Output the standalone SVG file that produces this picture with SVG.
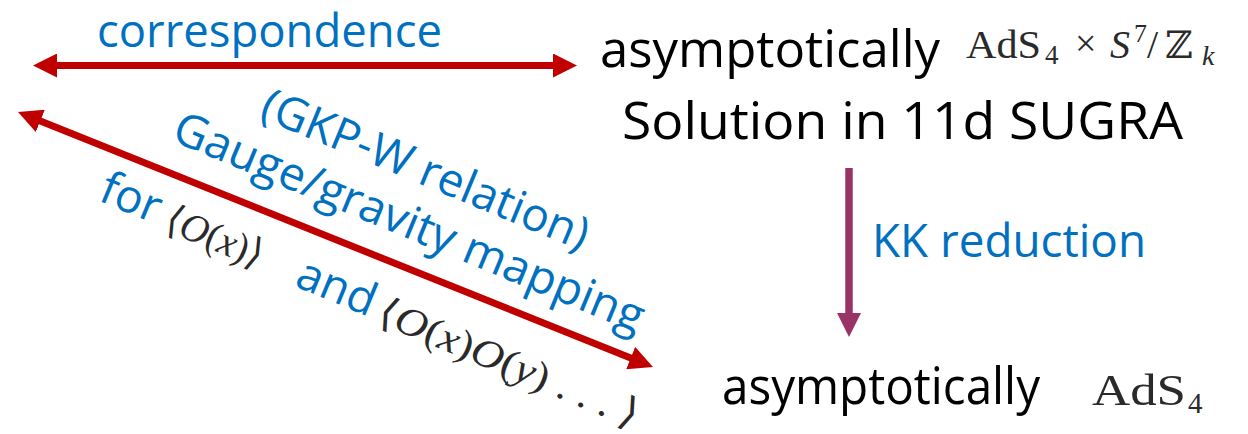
<svg xmlns="http://www.w3.org/2000/svg" width="1248" height="434" viewBox="0 0 1248 434">
<style>
.lbl{font-family:"Open Sans","Noto Sans","DejaVu Sans",sans-serif;fill:#0070C0;font-size:46px}
.blk{font-family:"Open Sans","Noto Sans","DejaVu Sans",sans-serif;fill:#000;font-size:52px}
.math{font-family:"Liberation Serif","DejaVu Serif",serif;fill:#2a2a2a}
.it{font-style:italic}
.red{stroke:#C00000;stroke-width:7;fill:none}
.pur{stroke:#993366;stroke-width:7.5;fill:none}
</style>
<defs>
<marker id="hr" viewBox="0 0 24 24" refX="4" refY="12" markerWidth="24" markerHeight="24" markerUnits="userSpaceOnUse" orient="auto-start-reverse"><path d="M0,0 L24,12 L0,24 Z" fill="#C00000"/></marker>
<marker id="hp" viewBox="0 0 24 24" refX="4" refY="12" markerWidth="24" markerHeight="24" markerUnits="userSpaceOnUse" orient="auto-start-reverse"><path d="M0,0 L24,12 L0,24 Z" fill="#993366"/></marker>
</defs>
<rect width="1248" height="434" fill="#fff"/>
<g id="connectors">
<path class="red" d="M53,65.5 L557,65.5" marker-start="url(#hr)" marker-end="url(#hr)"/>
<path class="red" d="M36.6,119.5 L634.4,359.5" marker-start="url(#hr)" marker-end="url(#hr)"/>
<path class="pur" d="M849,168 L849,317" marker-end="url(#hp)"/>
</g>
<g id="top-node">
<text class="blk" x="600" y="67" textLength="340" lengthAdjust="spacingAndGlyphs">asymptotically</text>
<text class="math" x="966" y="58" font-size="40" textLength="75" lengthAdjust="spacingAndGlyphs">AdS</text>
<text class="math" x="1045" y="64" font-size="27">4</text>
<text class="math" x="1075" y="56" font-size="38">×</text>
<text class="math it" x="1110" y="58" font-size="40">S</text>
<text class="math" x="1134" y="42" font-size="26">7</text>
<text class="math" x="1147" y="58" font-size="40">/</text>
<text class="math" x="1165" y="58" font-size="38">ℤ</text>
<text class="math it" x="1202" y="65" font-size="28">k</text>
<text class="blk" x="622" y="139" textLength="561" lengthAdjust="spacingAndGlyphs">Solution in 11d SUGRA</text>
</g>
<g id="bottom-node">
<text class="blk" x="722" y="404" font-size="49" textLength="318" lengthAdjust="spacingAndGlyphs">asymptotically</text>
<text class="math" x="1092" y="405" font-size="44" textLength="94" lengthAdjust="spacingAndGlyphs">AdS</text>
<text class="math" x="1188" y="413" font-size="29">4</text>
</g>
<g id="labels">
<text class="lbl" x="97" y="47" textLength="345" lengthAdjust="spacingAndGlyphs">correspondence</text>
<text class="lbl" x="872" y="257" textLength="274" lengthAdjust="spacingAndGlyphs">KK reduction</text>
<text class="lbl" transform="translate(258,117) rotate(22.5)" textLength="350" lengthAdjust="spacingAndGlyphs">(GKP-W relation)</text>
<text class="lbl" transform="translate(170,140) rotate(22.5)" textLength="505" lengthAdjust="spacingAndGlyphs">Gauge/gravity mapping</text>
<g transform="translate(97,200) rotate(22.5)">
<text class="lbl" x="0" y="0">for</text>
<text class="math" x="72" y="2" font-size="40" textLength="102" lengthAdjust="spacingAndGlyphs"><tspan>⟨</tspan><tspan class="it">O</tspan><tspan>(</tspan><tspan class="it">x</tspan><tspan>)⟩</tspan></text>
<text class="lbl" x="214" y="4">and</text>
<text class="math" x="304" y="6" font-size="40" textLength="278" lengthAdjust="spacingAndGlyphs"><tspan>⟨</tspan><tspan class="it">O</tspan><tspan>(</tspan><tspan class="it">x</tspan><tspan>)</tspan><tspan class="it">O</tspan><tspan>(</tspan><tspan class="it">y</tspan><tspan>) . . . ⟩</tspan></text>
</g>
</g>
</svg>
